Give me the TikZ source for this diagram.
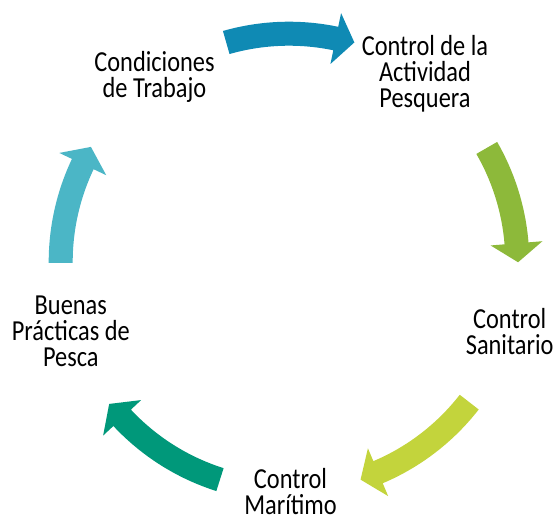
\documentclass[tikz,border=0pt]{standalone}
\usepackage{fontspec}
\newfontfamily\labelfont[FakeStretch=0.84]{Carlito}
\definecolor{arrA}{HTML}{0F8AB4}
\definecolor{arrB}{HTML}{8DB93A}
\definecolor{arrC}{HTML}{C3D43C}
\definecolor{arrD}{HTML}{00987A}
\definecolor{arrE}{HTML}{4BB6C6}
\newcommand\cycarrow[3]{%
  \pgfmathsetmacro\tipx{228.3*cos(#3)+19*sin(#3)}%
  \pgfmathsetmacro\tipy{228.3*sin(#3)-19*cos(#3)}%
  \fill[#1,shift={(289pt,-262pt)}] (#2:240.3pt) arc[start angle=#2,end angle=#3,radius=240.3pt]
    -- (#3:254.3pt) -- (\tipx pt,\tipy pt) -- (#3:202.3pt) -- (#3:216.3pt)
    arc[start angle=#3,end angle=#2,radius=216.3pt] -- cycle;}
\tikzset{lbl/.style={font=\labelfont\fontsize{29}{25.8}\selectfont, align=center, inner sep=0pt, anchor=base, text=black}}
\begin{document}
\begin{tikzpicture}
\useasboundingbox (0pt,0pt) rectangle (555pt,-516pt);
\cycarrow{arrA}{105.96}{78.18}
\cycarrow{arrB}{29.98}{4.69}
\cycarrow{arrC}{-37.87}{-67.04}
\cycarrow{arrD}{-107.6}{-136.96}
\cycarrow{arrE}{180.2}{154.6}
\node[lbl] (t1) at (154.5pt,-97.8pt) {Condiciones\\de Trabajo};
\node[lbl] (t2) at (425pt,-107.3pt) {Control de la\\Actividad\\Pesquera};
\node[lbl] (t3) at (509.7pt,-354.3pt) {Control\\Sanitario};
\node[lbl] (t4) at (290.5pt,-514.3pt) {Control\\Marítimo};
\node[lbl] (t5) at (70.8pt,-366pt) {Buenas\\Prácticas de\\Pesca};
\end{tikzpicture}
\end{document}
